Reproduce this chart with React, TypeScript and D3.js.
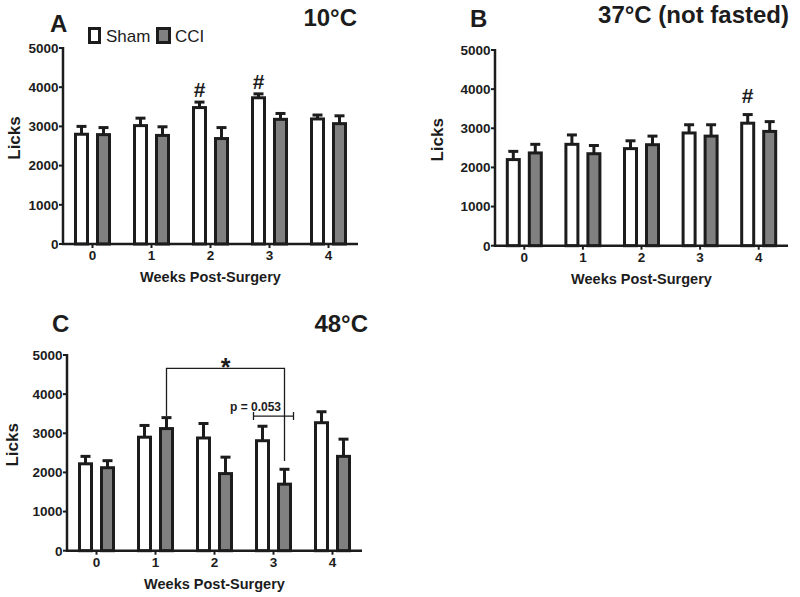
import React from "react";
import * as d3 from "d3";

const weeks = ["0", "1", "2", "3", "4"];
const yTicks = [0, 1000, 2000, 3000, 4000, 5000];

const shamA = [2800, 3020, 3480, 3730, 3190];
const shamErrA = [200, 190, 140, 100, 100];
const cciA = [2790, 2770, 2690, 3180, 3070];
const cciErrA = [180, 220, 280, 150, 200];

const shamB = [2200, 2590, 2480, 2880, 3130];
const shamErrB = [210, 240, 200, 210, 220];
const cciB = [2370, 2350, 2580, 2800, 2920];
const cciErrB = [220, 210, 220, 290, 250];

const shamC = [2220, 2900, 2880, 2810, 3270];
const shamErrC = [190, 300, 370, 370, 280];
const cciC = [2120, 3120, 1970, 1700, 2410];
const cciErrC = [180, 280, 420, 380, 440];

// '#' annotations: week and y value (licks) of the glyph baseline
const hashA = [
  { week: "2", y: 3750 },
  { week: "3", y: 3960 },
];
const hashB = [{ week: "4", y: 3650 }];

const FONT = "'Liberation Sans', Arial, sans-serif";
const INK = "#1c1c1c";
const GRAY = "#808080";

type PanelProps = {
  axisX: number;
  xEnd: number;
  y0: number;
  yTop: number;
  sham: number[];
  shamErr: number[];
  cci: number[];
  cciErr: number[];
  letter: string;
  letterX: number;
  letterY: number;
  title: string;
  titleX: number;
  titleY: number;
  licksX: number;
  hashes?: { week: string; y: number }[];
  children?: (x: d3.ScaleBand<string>, y: d3.ScaleLinear<number, number>) => React.ReactNode;
};

function Panel(p: PanelProps) {
  const x = d3.scaleBand<string>().domain(weeks).range([p.axisX, p.xEnd]).padding(0);
  const y = d3.scaleLinear().domain([0, 5000]).range([p.y0, p.yTop]);
  const off = 11;
  const bw = 12;
  const cap = 5;
  const bars = (vals: number[], errs: number[], dx: number, fill: string) =>
    weeks.map((w, i) => {
      const cx = (x(w) as number) + x.bandwidth() / 2 + dx;
      return (
        <g key={w + dx}>
          <line x1={cx} x2={cx} y1={y(vals[i])} y2={y(vals[i] + errs[i])} stroke={INK} strokeWidth={3} />
          <line x1={cx - cap} x2={cx + cap} y1={y(vals[i] + errs[i])} y2={y(vals[i] + errs[i])} stroke={INK} strokeWidth={3} />
          <rect x={cx - bw / 2} y={y(vals[i])} width={bw} height={y(0) - y(vals[i])} fill={fill} stroke={INK} strokeWidth={3} />
        </g>
      );
    });
  return (
    <g>
      {bars(p.sham, p.shamErr, -off, "#ffffff")}
      {bars(p.cci, p.cciErr, off, GRAY)}
      <line x1={p.axisX} x2={p.axisX} y1={p.yTop - 1} y2={p.y0 + 1} stroke={INK} strokeWidth={2.5} />
      <line x1={p.axisX - 1} x2={p.xEnd} y1={p.y0} y2={p.y0} stroke={INK} strokeWidth={2.5} />
      {yTicks.map((t) => (
        <g key={t}>
          <line x1={p.axisX - 4} x2={p.axisX} y1={y(t)} y2={y(t)} stroke={INK} strokeWidth={2} />
          <text x={p.axisX - 4.5} y={y(t) + 4.8} textAnchor="end" fontFamily={FONT} fontWeight="bold" fontSize={13.5} fill={INK}>
            {t}
          </text>
        </g>
      ))}
      {weeks.map((w) => {
        const cx = (x(w) as number) + x.bandwidth() / 2;
        return (
          <g key={w}>
            <line x1={cx} x2={cx} y1={p.y0} y2={p.y0 + 4} stroke={INK} strokeWidth={2} />
            <text x={cx} y={p.y0 + 16} textAnchor="middle" fontFamily={FONT} fontWeight="bold" fontSize={13.5} fill={INK}>
              {w}
            </text>
          </g>
        );
      })}
      <text x={(p.axisX + p.xEnd) / 2} y={p.y0 + 38} textAnchor="middle" fontFamily={FONT} fontWeight="bold" fontSize={14.5} fill={INK}>
        Weeks Post-Surgery
      </text>
      <text
        transform={`translate(${p.licksX},${(p.y0 + p.yTop) / 2 - 8}) rotate(-90)`}
        textAnchor="middle"
        dominantBaseline="central"
        fontFamily={FONT}
        fontWeight="bold"
        fontSize={17}
        fill={INK}
      >
        Licks
      </text>
      <text x={p.letterX} y={p.letterY} fontFamily={FONT} fontWeight="bold" fontSize={24} fill={INK}>
        {p.letter}
      </text>
      <text x={p.titleX} y={p.titleY} textAnchor="end" fontFamily={FONT} fontWeight="bold" fontSize={24} fill={INK}>
        {p.title}
      </text>
      {(p.hashes || []).map((h) => (
        <text
          key={h.week}
          x={(x(h.week) as number) + x.bandwidth() / 2 - off}
          y={y(h.y)}
          textAnchor="middle"
          fontFamily={FONT}
          fontWeight="bold"
          fontSize={21}
          fill={INK}
        >
          #
        </text>
      ))}
      {p.children ? p.children(x, y) : null}
    </g>
  );
}

export default function App() {
  return (
    <svg width={800} height={597} style={{ position: "absolute", left: 0, top: 0, background: "#fff" }}>
      <rect width={800} height={597} fill="#fff" />
      <Panel
        axisX={63}
        xEnd={358}
        y0={244}
        yTop={48}
        sham={shamA}
        shamErr={shamErrA}
        cci={cciA}
        cciErr={cciErrA}
        letter="A"
        letterX={50}
        letterY={32}
        title="10°C"
        titleX={357}
        titleY={26}
        licksX={14}
        hashes={hashA}
      />
      <rect x={89.5} y={28.5} width={10} height={14} fill="#fff" stroke={INK} strokeWidth={3} />
      <text x={106} y={42} fontFamily={FONT} fontSize={17} fill={INK}>Sham</text>
      <rect x={157.5} y={28.5} width={12} height={14} fill={GRAY} stroke={INK} strokeWidth={3} />
      <text x={175} y={42} fontFamily={FONT} fontSize={17} fill={INK}>CCI</text>

      <Panel
        axisX={495}
        xEnd={788}
        y0={245.7}
        yTop={50}
        sham={shamB}
        shamErr={shamErrB}
        cci={cciB}
        cciErr={cciErrB}
        letter="B"
        letterX={470}
        letterY={27}
        title="37°C (not fasted)"
        titleX={789}
        titleY={23}
        licksX={437}
        hashes={hashB}
      />

      <Panel
        axisX={67}
        xEnd={362}
        y0={550.7}
        yTop={355}
        sham={shamC}
        shamErr={shamErrC}
        cci={cciC}
        cciErr={cciErrC}
        letter="C"
        letterX={52}
        letterY={332}
        title="48°C"
        titleX={368}
        titleY={332}
        licksX={12}
      >
        {(x, y) => {
          const c1 = (x("1") as number) + x.bandwidth() / 2 + 11;
          const c3 = (x("3") as number) + x.bandwidth() / 2 + 11;
          const g3 = (x("3") as number) + x.bandwidth() / 2;
          const top = y(4660);
          const pY = y(3440);
          return (
            <g>
              <path
                d={`M${c1},${y(3440)}V${top}H${c3}V${y(2290)}`}
                fill="none"
                stroke={INK}
                strokeWidth={1.3}
              />
              <text x={(c1 + c3) / 2} y={top + 8} textAnchor="middle" fontFamily={FONT} fontWeight="bold" fontSize={25} fill={INK}>
                *
              </text>
              <path
                d={`M${g3 - 20},${pY}H${g3 + 20}M${g3 - 20},${pY - 4}V${pY + 4}M${g3 + 20},${pY - 4}V${pY + 4}`}
                fill="none"
                stroke={INK}
                strokeWidth={1.3}
              />
              <text x={g3 - 18} y={pY - 5} textAnchor="middle" fontFamily={FONT} fontWeight="bold" fontSize={12} fill={INK}>
                p = 0.053
              </text>
            </g>
          );
        }}
      </Panel>
    </svg>
  );
}
